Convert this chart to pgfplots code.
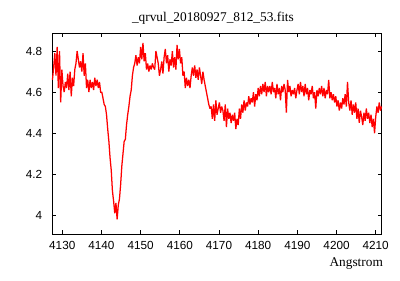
\documentclass[border=0pt]{standalone}
\usepackage{fontspec}
\setmainfont{Liberation Serif}
\setsansfont{Liberation Sans}
\usepackage{pgfplots}
\pgfplotsset{compat=1.18}

\begin{document}
\begin{tikzpicture}
% whole picture is 400x280 px at 0.75pt per px
\path[use as bounding box] (-39.2pt,-34.5pt) rectangle (260.8pt,175.5pt);
\begin{axis}[
    at={(0,0)}, anchor=south west,
    scale only axis,
    width=247pt, height=150.75pt,
    xmin=4127.45, xmax=4211.5,
    ymin=3.909, ymax=4.888,
    xtick={4130,4140,4150,4160,4170,4180,4190,4200,4210},
    ytick={4,4.2,4.4,4.6,4.8},
    yticklabels={4,4.2,4.4,4.6,4.8},
    xticklabels={4130,4140,4150,4160,4170,4180,4190,4200,4210},
    tick align=inside,
    major tick length=3pt,
    minor tick num=0,
    axis line style={line width=0.75pt},
    every tick/.style={black, line width=0.6pt},
    tick label style={font=\sffamily\fontsize{8.8}{10}\selectfont},
    /pgf/number format/assume math mode=true,
    xticklabel style={yshift=-2pt},
    yticklabel style={xshift=-4pt},
    clip=false,
]
\addplot[color=red, line width=0.95pt, line join=miter, miter limit=2] coordinates {
(4127.5,4.66)(4127.8,4.72)(4128.1,4.79)(4128.4,4.68)(4128.7,4.82)(4129.0,4.62)(4129.3,4.80)(4129.6,4.55)(4129.9,4.71)
(4130.2,4.63)(4130.5,4.60)(4130.8,4.65)(4131.1,4.62)(4131.4,4.69)(4131.7,4.61)(4132.0,4.70)(4132.3,4.58)(4132.6,4.67)(4132.9,4.63)(4133.2,4.71)
(4133.5,4.74)(4133.8,4.80)(4134.1,4.76)(4134.4,4.72)(4134.7,4.75)(4135.0,4.70)(4135.3,4.79)(4135.6,4.68)(4135.9,4.74)(4136.2,4.62)(4136.5,4.66)
(4136.8,4.60)(4137.1,4.66)(4137.4,4.62)(4137.7,4.65)(4138.0,4.61)(4138.3,4.67)(4138.6,4.63)(4138.9,4.66)(4139.2,4.62)(4139.5,4.65)(4139.8,4.60)
(4140.1,4.60)(4140.4,4.57)(4140.7,4.54)(4141.0,4.53)(4141.3,4.49)(4141.6,4.42)(4141.9,4.36)(4142.2,4.28)(4142.5,4.22)(4142.8,4.12)(4143.1,4.07)
(4143.4,4.01)(4143.7,4.06)(4144.0,3.98)(4144.3,4.05)(4144.6,4.08)
(4144.9,4.15)(4145.2,4.24)(4145.5,4.30)(4145.8,4.36)(4146.1,4.37)(4146.4,4.44)(4146.7,4.49)(4147.0,4.53)(4147.3,4.58)(4147.6,4.61)(4147.9,4.68)(4148.2,4.72)
(4148.5,4.74)(4148.8,4.78)(4149.1,4.73)(4149.4,4.77)(4149.7,4.74)(4150.0,4.82)(4150.3,4.76)(4150.6,4.84)(4150.9,4.75)(4151.2,4.79)(4151.5,4.71)
(4151.8,4.74)(4152.1,4.70)(4152.4,4.73)(4152.7,4.71)(4153.0,4.74)(4153.3,4.72)(4153.6,4.71)(4153.9,4.80)(4154.2,4.77)(4154.5,4.74)(4154.8,4.68)
(4155.1,4.71)(4155.4,4.75)(4155.7,4.69)(4156.0,4.77)(4156.3,4.81)(4156.6,4.74)(4156.9,4.78)(4157.2,4.70)(4157.5,4.76)(4157.8,4.73)
(4158.1,4.80)(4158.4,4.72)(4158.7,4.77)(4159.0,4.71)(4159.3,4.83)(4159.6,4.76)(4159.9,4.81)(4160.2,4.74)(4160.5,4.77)(4160.8,4.68)
(4161.1,4.70)(4161.4,4.62)(4161.7,4.67)(4162.0,4.63)(4162.3,4.66)(4162.6,4.62)(4162.9,4.68)
(4163.2,4.72)(4163.5,4.68)(4163.8,4.73)(4164.1,4.67)(4164.4,4.71)(4164.7,4.66)(4165.0,4.72)(4165.3,4.68)(4165.6,4.64)(4165.9,4.70)(4166.2,4.66)(4166.5,4.63)
(4166.8,4.60)(4167.1,4.57)(4167.4,4.54)(4167.7,4.52)
(4168.0,4.53)(4168.3,4.47)(4168.6,4.54)(4168.9,4.46)(4169.2,4.56)(4169.5,4.49)(4169.8,4.52)(4170.1,4.55)(4170.4,4.50)(4170.7,4.53)(4171.0,4.51)
(4171.3,4.46)(4171.6,4.54)(4171.9,4.43)(4172.2,4.52)(4172.5,4.47)(4172.8,4.50)(4173.1,4.45)(4173.4,4.49)(4173.7,4.46)(4174.0,4.50)(4174.3,4.42)(4174.6,4.47)(4174.9,4.44)
(4175.2,4.52)(4175.5,4.47)(4175.8,4.54)(4176.1,4.50)(4176.4,4.56)(4176.7,4.51)(4177.0,4.55)(4177.3,4.53)(4177.6,4.58)(4177.9,4.54)(4178.2,4.57)(4178.5,4.55)
(4178.8,4.60)(4179.1,4.53)(4179.4,4.59)(4179.7,4.56)(4180.0,4.62)(4180.3,4.58)(4180.6,4.63)(4180.9,4.59)(4181.2,4.64)(4181.5,4.60)(4181.8,4.65)(4182.1,4.58)(4182.4,4.63)(4182.7,4.60)
(4183.0,4.63)(4183.3,4.59)(4183.6,4.65)(4183.9,4.60)(4184.2,4.62)(4184.5,4.57)(4184.8,4.64)(4185.1,4.59)(4185.4,4.62)(4185.7,4.56)(4186.0,4.63)(4186.3,4.60)
(4186.6,4.64)(4186.9,4.61)(4187.2,4.50)(4187.5,4.66)(4187.8,4.60)(4188.1,4.63)(4188.4,4.58)(4188.7,4.61)(4189.0,4.59)(4189.3,4.62)(4189.6,4.57)(4189.9,4.61)
(4190.2,4.64)(4190.5,4.59)(4190.8,4.65)(4191.1,4.60)(4191.4,4.63)(4191.7,4.58)(4192.0,4.64)(4192.3,4.59)(4192.6,4.62)(4192.9,4.56)(4193.2,4.61)(4193.5,4.59)
(4193.8,4.63)(4194.1,4.57)(4194.4,4.60)(4194.7,4.52)(4195.0,4.61)(4195.3,4.58)(4195.6,4.62)(4195.9,4.59)(4196.2,4.63)
(4196.5,4.58)(4196.8,4.62)(4197.1,4.57)(4197.4,4.61)(4197.7,4.59)(4198.0,4.66)(4198.3,4.57)(4198.6,4.60)(4198.9,4.56)(4199.2,4.59)(4199.5,4.55)(4199.8,4.58)
(4200.1,4.53)(4200.4,4.56)(4200.7,4.51)(4201.0,4.55)(4201.3,4.52)(4201.6,4.57)(4201.9,4.54)(4202.2,4.59)(4202.5,4.53)(4202.8,4.65)(4203.1,4.55)(4203.4,4.51)
(4203.7,4.56)(4204.0,4.49)(4204.3,4.54)(4204.6,4.50)(4204.9,4.55)(4205.2,4.47)(4205.5,4.52)(4205.8,4.45)(4206.1,4.51)(4206.4,4.48)(4206.7,4.44)(4207.0,4.50)
(4207.3,4.46)(4207.6,4.52)(4207.9,4.47)(4208.2,4.50)(4208.5,4.45)(4208.8,4.49)(4209.1,4.43)(4209.4,4.47)(4209.7,4.40)(4210.0,4.48)(4210.3,4.53)(4210.6,4.50)
(4210.9,4.55)(4211.2,4.51)(4211.5,4.53)
};
\node[anchor=base, inner sep=0pt, font=\fontsize{10}{12}\selectfont] at ([xshift=-3pt, yshift=8.6pt]rel axis cs:0.5,1) {\_qrvul\_20180927\_812\_53.fits};
\node[anchor=north east, inner sep=0pt, font=\fontsize{10}{12}\selectfont] at ([xshift=1.2pt, yshift=-17.2pt]rel axis cs:1,0) {Angstrom};
\end{axis}
\end{tikzpicture}
\end{document}
